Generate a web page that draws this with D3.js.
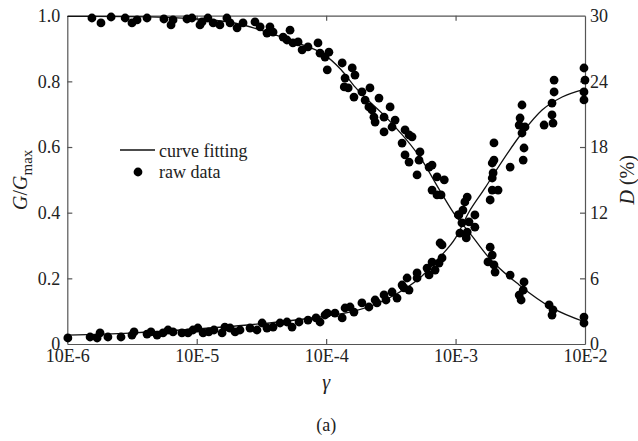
<!DOCTYPE html>
<html>
<head>
<meta charset="utf-8">
<script src="https://cdn.jsdelivr.net/npm/d3@7"></script>
<style>
  body { margin: 0; background: #fff; }
  svg text { font-family: "Liberation Serif", "Times New Roman", "DejaVu Serif", serif; }
</style>
</head>
<body>
<script>
const width = 638;
const height = 441;

const margin = {
    left: 67.3,
    right: 53,
    top: 15.7,
    bottom: 97
};

// x axis (strain), log scale
const xTicks = [1e-6, 1e-5, 1e-4, 1e-3, 1e-2];
const xTickLabels = ["10E-6", "10E-5", "10E-4", "10E-3", "10E-2"];
const gTicks = [0, 0.2, 0.4, 0.6, 0.8, 1.0];
const gTickLabels = ["0", "0.2", "0.4", "0.6", "0.8", "1.0"];
const dTicks = [0, 6, 12, 18, 24, 30];

// raw data, G/Gmax
const gGamma = [1.55e-6, 1.82e-6, 2.18e-6, 2.80e-6, 3.16e-6, 3.46e-6, 4.13e-6, 5.58e-6, 6.33e-6, 6.56e-6, 8.41e-6, 9.19e-6,
    1.06e-5, 1.10e-5, 1.22e-5, 1.34e-5, 1.51e-5, 1.71e-5, 1.81e-5, 2.05e-5, 2.28e-5, 2.82e-5, 3.09e-5, 3.49e-5, 3.68e-5,
    3.89e-5, 4.65e-5, 5.26e-5, 4.98e-5, 5.54e-5, 6.07e-5, 6.52e-5, 7.24e-5, 8.65e-5, 8.97e-5, 9.80e-5,
    1.02e-4, 1.05e-4, 1.33e-4, 1.40e-4, 1.38e-4, 1.48e-4, 1.59e-4, 1.64e-4, 1.67e-4, 1.89e-4, 2.00e-4, 2.14e-4, 2.18e-4,
    2.26e-4, 2.39e-4, 2.34e-4, 2.56e-4, 2.80e-4, 2.80e-4, 3.12e-4, 3.23e-4, 3.41e-4, 3.86e-4, 4.07e-4, 4.07e-4, 4.37e-4,
    4.37e-4, 4.61e-4, 5.04e-4, 5.22e-4, 5.31e-4, 6.24e-4, 6.58e-4, 6.58e-4, 7.19e-4, 7.19e-4, 7.72e-4, 8.18e-4,
    1.06e-3, 1.12e-3, 1.27e-3, 1.41e-3, 1.08e-3, 1.23e-3, 1.21e-3,
    1.85e-3, 1.92e-3, 1.78e-3, 1.98e-3, 2.02e-3, 2.64e-3, 3.38e-3, 3.33e-3, 3.10e-3, 3.21e-3, 5.28e-3, 5.66e-3, 5.56e-3,
    9.82e-3, 9.82e-3];
const gValue = [0.993, 0.978, 0.996, 0.993, 0.978, 0.987, 0.993, 0.990, 0.972, 0.987, 0.990, 0.993,
    0.972, 0.981, 0.993, 0.978, 0.972, 0.993, 0.978, 0.963, 0.978, 0.981, 0.966, 0.947, 0.966,
    0.950, 0.935, 0.956, 0.926, 0.917, 0.920, 0.896, 0.905, 0.917, 0.886, 0.874,
    0.835, 0.889, 0.856, 0.810, 0.783, 0.780, 0.841, 0.752, 0.819, 0.768, 0.743, 0.722, 0.780,
    0.713, 0.676, 0.691, 0.749, 0.691, 0.646, 0.722, 0.661, 0.682, 0.612, 0.652, 0.576, 0.637,
    0.554, 0.631, 0.515, 0.560, 0.585, 0.539, 0.545, 0.469, 0.509, 0.454, 0.454, 0.500,
    0.393, 0.369, 0.372, 0.356, 0.338, 0.341, 0.323,
    0.295, 0.271, 0.250, 0.241, 0.219, 0.210, 0.189, 0.164, 0.149, 0.134, 0.119, 0.104, 0.088,
    0.082, 0.064];

// raw data, damping ratio D (%)
const dGamma = [1.01e-6, 1.50e-6, 1.70e-6, 1.79e-6, 2.06e-6, 2.60e-6, 3.16e-6, 3.28e-6, 4.13e-6, 4.43e-6, 4.94e-6, 5.49e-6,
    6.00e-6, 6.56e-6, 7.69e-6, 8.56e-6, 9.35e-6,
    1.02e-5, 1.12e-5, 1.24e-5, 1.36e-5, 1.57e-5, 1.65e-5, 1.81e-5, 1.98e-5, 2.16e-5, 2.58e-5, 2.92e-5, 3.20e-5, 3.49e-5,
    3.89e-5, 4.40e-5, 4.98e-5, 5.45e-5, 6.17e-5, 7.24e-5, 8.35e-5, 8.97e-5, 9.80e-5,
    1.02e-4, 1.17e-4, 1.33e-4, 1.40e-4, 1.53e-4, 1.64e-4, 1.89e-4, 2.14e-4, 2.39e-4, 2.47e-4, 2.80e-4, 2.90e-4, 3.23e-4,
    3.53e-4, 3.86e-4, 4.00e-4, 4.37e-4, 4.22e-4, 5.04e-4, 5.04e-4, 6.24e-4, 6.02e-4, 6.95e-4, 7.45e-4, 6.58e-4, 7.86e-4,
    7.86e-4, 7.59e-4,
    1.05e-3, 1.14e-3, 1.18e-3, 1.23e-3, 1.41e-3, 1.85e-3, 1.92e-3, 2.13e-3, 1.92e-3, 1.95e-3, 1.92e-3, 1.98e-3, 1.98e-3,
    2.64e-3, 3.33e-3, 3.38e-3, 3.10e-3, 3.15e-3, 3.44e-3, 3.26e-3, 3.26e-3, 4.83e-3, 5.66e-3, 5.56e-3, 5.56e-3, 5.77e-3,
    5.77e-3, 9.82e-3, 1.0e-2, 9.82e-3, 9.82e-3];
const dValue = [0.55, 0.64, 0.55, 1.01, 0.64, 0.64, 0.82, 1.10, 0.91, 1.10, 0.82, 1.01,
    1.28, 1.10, 1.01, 1.01, 1.28,
    1.46, 1.01, 1.10, 1.28, 1.01, 1.55, 1.46, 1.10, 1.28, 1.46, 1.28, 1.92, 1.46,
    1.55, 1.92, 2.01, 1.55, 2.01, 2.19, 2.38, 2.01, 2.65,
    2.83, 2.83, 2.38, 3.29, 3.38, 2.92, 3.75, 3.38, 4.02, 3.75, 4.48, 4.02, 4.75,
    4.20, 5.39, 5.12, 4.93, 6.03, 6.49, 6.03, 6.31, 6.94, 6.76, 7.40, 7.49, 7.86,
    9.05, 9.23,
    11.79, 12.24, 12.98, 13.43, 11.79, 13.16, 14.07, 14.07, 15.17, 15.63, 16.54, 16.81, 18.37,
    16.17, 16.81, 17.91, 20.01, 20.65, 19.83, 19.28, 21.84, 20.01, 20.19, 20.93, 22.02, 23.03,
    24.12, 25.22, 24.12, 23.03, 22.30];

// fitted curves
const gFitGamma = [1e-6, 3.05e-6, 1.0e-5, 2.0e-5, 3.08e-5, 6.28e-5, 9.3e-5, 1.3e-4, 1.67e-4, 3.05e-4, 5.5e-4, 7.6e-4,
    9.9e-4, 1.27e-3, 1.82e-3, 3.1e-3, 5.56e-3, 1e-2];
const gFitValue = [0.998, 0.997, 0.990, 0.977, 0.957, 0.914, 0.886, 0.836, 0.783, 0.682, 0.560, 0.466,
    0.393, 0.341, 0.262, 0.180, 0.110, 0.067];
const dFitGamma = [1e-6, 3.05e-6, 9.9e-6, 3.03e-5, 1.0e-4, 1.67e-4, 3.06e-4, 5.5e-4, 7.45e-4, 1.0e-3, 1.27e-3, 1.69e-3,
    2.0e-3, 3.26e-3, 4.66e-3, 6.66e-3, 1e-2];
const dFitValue = [0.82, 1.0, 1.37, 1.83, 2.56, 3.02, 4.20, 6.21, 7.86, 9.69, 12.06, 14.26,
    15.63, 19.28, 21.38, 22.57, 23.30];

const axisColor = "#555";
const serif = "'Liberation Serif', 'Times New Roman', serif";
const fontSize = "18px";

let svg = d3.select("body").append("svg")
    .attr("width", width)
    .attr("height", height)
    .attr("font-family", serif);

let xScale = d3.scaleLog()
    .domain([1e-6, 1e-2])
    .range([margin.left, width - margin.right]);

let gScale = d3.scaleLinear()
    .domain([0, 1])
    .range([height - margin.bottom, margin.top]);

let dScale = d3.scaleLinear()
    .domain([0, 30])
    .range([height - margin.bottom, margin.top]);

// axes with inward ticks
let xAxis = svg.append("g")
    .attr("transform", "translate(0," + (height - margin.bottom) + ")")
    .call(d3.axisBottom(xScale)
        .tickValues(xTicks)
        .tickFormat((d, i) => xTickLabels[i])
        .tickSizeInner(-5)
        .tickSizeOuter(0)
        .tickPadding(5));

let xTop = svg.append("g")
    .attr("transform", "translate(0," + margin.top + ")")
    .call(d3.axisTop(xScale)
        .tickValues(xTicks)
        .tickFormat("")
        .tickSizeInner(-5)
        .tickSizeOuter(0));

let yAxis = svg.append("g")
    .attr("transform", "translate(" + margin.left + ",0)")
    .call(d3.axisLeft(gScale)
        .tickValues(gTicks)
        .tickFormat((d, i) => gTickLabels[i])
        .tickSizeInner(-5)
        .tickSizeOuter(0)
        .tickPadding(7));

let yRight = svg.append("g")
    .attr("transform", "translate(" + (width - margin.right) + ",0)")
    .call(d3.axisRight(dScale)
        .tickValues(dTicks)
        .tickSizeInner(-5)
        .tickSizeOuter(0)
        .tickPadding(5));

svg.selectAll(".domain, .tick line")
    .attr("stroke", axisColor)
    .attr("stroke-width", 1.2);

[xAxis, xTop, yAxis, yRight].forEach(a => a.attr("font-family", serif).attr("font-size", fontSize));

svg.selectAll(".tick text")
    .attr("fill", "#222");

// remove tick lines that sit on the corners
xAxis.selectAll(".tick line").filter((d, i) => i === 0 || i === xTicks.length - 1).remove();
xTop.selectAll(".tick line").filter((d, i) => i === 0 || i === xTicks.length - 1).remove();
yAxis.selectAll(".tick line").filter(d => d === 0 || d === 1).remove();
yRight.selectAll(".tick line").filter(d => d === 0 || d === 30).remove();

// fitted curves
let gLine = d3.line()
    .curve(d3.curveMonotoneX)
    .x(d => xScale(d[0]))
    .y(d => gScale(d[1]));

let dLine = d3.line()
    .curve(d3.curveMonotoneX)
    .x(d => xScale(d[0]))
    .y(d => dScale(d[1]));

svg.append("path")
    .datum(gFitGamma.map((g, i) => [g, gFitValue[i]]))
    .attr("fill", "none")
    .attr("stroke", "#111")
    .attr("stroke-width", 1.3)
    .attr("d", gLine);

svg.append("path")
    .datum(dFitGamma.map((g, i) => [g, dFitValue[i]]))
    .attr("fill", "none")
    .attr("stroke", "#111")
    .attr("stroke-width", 1.3)
    .attr("d", dLine);

// raw points
svg.append("g").selectAll("circle")
    .data(gGamma.map((g, i) => [g, gValue[i]]))
    .enter().append("circle")
    .attr("cx", d => xScale(d[0]))
    .attr("cy", d => gScale(d[1]))
    .attr("r", 4.4)
    .attr("fill", "#000");

svg.append("g").selectAll("circle")
    .data(dGamma.map((g, i) => [g, dValue[i]]))
    .enter().append("circle")
    .attr("cx", d => xScale(d[0]))
    .attr("cy", d => dScale(d[1]))
    .attr("r", 4.4)
    .attr("fill", "#000");

// legend
let legend = svg.append("g");
legend.append("line")
    .attr("x1", 120).attr("x2", 155)
    .attr("y1", 150).attr("y2", 150)
    .attr("stroke", "#111")
    .attr("stroke-width", 1.3);
legend.append("text")
    .attr("x", 159).attr("y", 157)
    .attr("font-size", fontSize)
    .attr("fill", "#222")
    .text("curve fitting");
legend.append("circle")
    .attr("cx", 138).attr("cy", 172)
    .attr("r", 4.4)
    .attr("fill", "#000");
legend.append("text")
    .attr("x", 159).attr("y", 178)
    .attr("font-size", fontSize)
    .attr("fill", "#222")
    .text("raw data");

// axis titles
let yTitle = svg.append("text")
    .attr("transform", "translate(27," + ((margin.top + height - margin.bottom) / 2) + ") rotate(-90)")
    .attr("text-anchor", "middle")
    .attr("font-size", "20px")
    .attr("fill", "#222");
yTitle.append("tspan").attr("font-style", "italic").text("G");
yTitle.append("tspan").text("/");
yTitle.append("tspan").attr("font-style", "italic").text("G");
yTitle.append("tspan").attr("dy", 5).attr("font-size", "15px").text("max");

let dTitle = svg.append("text")
    .attr("transform", "translate(634," + ((margin.top + height - margin.bottom) / 2) + ") rotate(-90)")
    .attr("text-anchor", "middle")
    .attr("font-size", "20px")
    .attr("fill", "#222");
dTitle.append("tspan").attr("font-style", "italic").text("D");
dTitle.append("tspan").text(" (%)");

svg.append("text")
    .attr("x", (margin.left + width - margin.right) / 2)
    .attr("y", 389)
    .attr("text-anchor", "middle")
    .attr("font-size", "20px")
    .attr("font-style", "italic")
    .attr("fill", "#222")
    .text("γ");

svg.append("text")
    .attr("x", (margin.left + width - margin.right) / 2)
    .attr("y", 431)
    .attr("text-anchor", "middle")
    .attr("font-size", "18px")
    .attr("fill", "#222")
    .text("(a)");
</script>
</body>
</html>
